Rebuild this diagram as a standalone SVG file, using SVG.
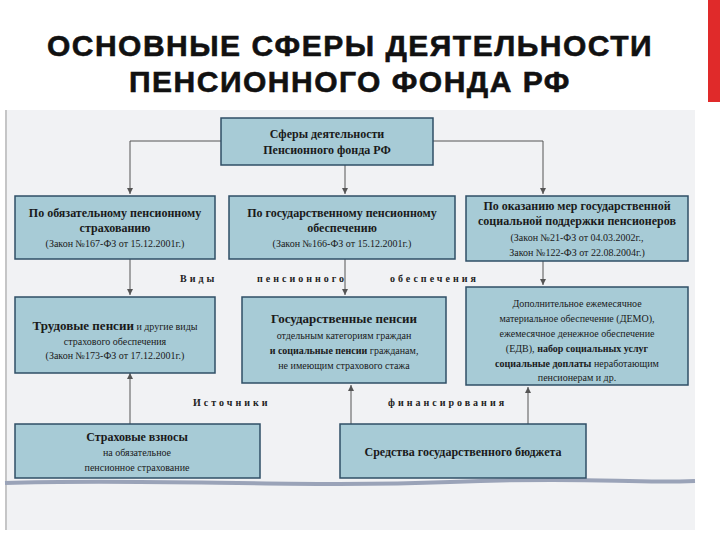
<svg xmlns="http://www.w3.org/2000/svg" width="720" height="540" viewBox="0 0 720 540">
<defs>
<style>
.b{fill:#a7cbd6;stroke:#2f4f66;stroke-width:1.5}
.t{font-family:'Liberation Serif','Times New Roman',serif;fill:#1a1a1a;text-anchor:middle}
.h{font-weight:bold;font-size:12px}
.s{font-size:10px}
.l{font-family:'Liberation Serif',serif;font-size:10px;font-weight:bold;letter-spacing:3px;fill:#222}
.c{fill:none;stroke:#555;stroke-width:1}
</style>
<marker id="a" markerWidth="8" markerHeight="8" refX="6" refY="4" orient="auto"><path d="M0,1 L6,4 L0,7 z" fill="#555"/></marker>
</defs>
<rect width="720" height="540" fill="#fff"/>
<rect x="5" y="110" width="690" height="420" fill="#f1f2f4"/>
<line x1="6" y1="110" x2="6" y2="530" stroke="#999"/>
<rect x="708" y="0" width="12" height="102" fill="#e02a2a"/>
<path d="M5,483 C150,478 300,488 450,482 S620,484 695,481" stroke="#9aa3b8" stroke-width="4" fill="none"/>
<text x="350" y="56" font-family="Liberation Sans,sans-serif" font-weight="bold" font-size="30" letter-spacing="1.5" text-anchor="middle" fill="#111" stroke="#111" stroke-width="0.6">ОСНОВНЫЕ СФЕРЫ ДЕЯТЕЛЬНОСТИ</text>
<text x="350" y="92" font-family="Liberation Sans,sans-serif" font-weight="bold" font-size="30" letter-spacing="1.5" text-anchor="middle" fill="#111" stroke="#111" stroke-width="0.6">ПЕНСИОННОГО ФОНДА РФ</text>
<g id="connectors">
<path class="c" d="M221,141 H130 V194" marker-end="url(#a)"/>
<path class="c" d="M433,141 H543 V194" marker-end="url(#a)"/>
<path class="c" d="M345,165 V194" marker-end="url(#a)"/>
<path class="c" d="M130,259 V295" marker-end="url(#a)"/>
<path class="c" d="M345,259 V295" marker-end="url(#a)"/>
<path class="c" d="M543,261 V285" marker-end="url(#a)"/>
<path class="c" d="M130,424 V373" marker-end="url(#a)"/>
<path class="c" d="M351,424 V385" marker-end="url(#a)"/>
<path class="c" d="M528,424 V387" marker-end="url(#a)"/>
</g>
<text class="l" x="180" y="282">Виды</text>
<text class="l" x="257" y="282">пенсионного</text>
<text class="l" x="390" y="282">обеспечения</text>
<text class="l" x="193" y="406">Источники</text>
<text class="l" x="388" y="406">финансирования</text>
<g id="top"><rect class="b" x="221" y="118" width="212" height="47"/>
<text class="t h" x="327" y="138">Сферы деятельности</text><text class="t h" x="327" y="154">Пенсионного фонда РФ</text></g>
<g id="n1"><rect class="b" x="15" y="196" width="200" height="63"/>
<text class="t h" x="115" y="217">По обязательному пенсионному</text><text class="t h" x="115" y="232">страхованию</text><text class="t s" x="115" y="247">(Закон №167-ФЗ от 15.12.2001г.)</text></g>
<g id="n2"><rect class="b" x="229" y="196" width="226" height="63"/>
<text class="t h" x="342" y="217">По государственному пенсионному</text><text class="t h" x="342" y="232">обеспечению</text><text class="t s" x="342" y="247">(Закон №166-ФЗ от 15.12.2001г.)</text></g>
<g id="n3"><rect class="b" x="466" y="196" width="222" height="65"/>
<text class="t h" x="577" y="210">По оказанию мер государственной</text><text class="t h" x="577" y="225">социальной поддержки пенсионеров</text><text class="t s" x="577" y="241">(Закон №21-ФЗ от 04.03.2002г.,</text><text class="t s" x="577" y="256">Закон №122-ФЗ от 22.08.2004г.)</text></g>
<g id="n4"><rect class="b" x="15" y="297" width="200" height="76"/>
<text class="t" x="115" y="330"><tspan font-weight="bold" font-size="13">Трудовые пенсии</tspan><tspan font-size="10"> и другие виды</tspan></text><text class="t s" x="115" y="345">страхового обеспечения</text><text class="t s" x="115" y="359">(Закон №173-ФЗ от 17.12.2001г.)</text></g>
<g id="n5"><rect class="b" x="242" y="297" width="204" height="86"/>
<text class="t h" x="344" y="323" style="font-size:13px">Государственные пенсии</text><text class="t s" x="344" y="339">отдельным категориям граждан</text><text class="t s" x="344" y="354"><tspan font-weight="bold">и социальные пенсии</tspan> гражданам,</text><text class="t s" x="344" y="369">не имеющим страхового стажа</text></g>
<g id="n6"><rect class="b" x="466" y="287" width="222" height="98"/>
<text class="t s" x="577" y="307">Дополнительное ежемесячное</text><text class="t s" x="577" y="322">материальное обеспечение (ДЕМО),</text><text class="t s" x="577" y="337">ежемесячное денежное обеспечение</text><text class="t s" x="577" y="352">(ЕДВ), <tspan font-weight="bold">набор социальных услуг</tspan></text><text class="t s" x="577" y="367"><tspan font-weight="bold">социальные доплаты</tspan> неработающим</text><text class="t s" x="577" y="381">пенсионерам и др.</text></g>
<g id="n7"><rect class="b" x="15" y="424" width="245" height="54"/>
<text class="t h" x="137" y="441">Страховые взносы</text><text class="t s" x="137" y="456">на обязательное</text><text class="t s" x="137" y="471">пенсионное страхование</text></g>
<g id="n8"><rect class="b" x="340" y="424" width="246" height="54"/>
<text class="t h" x="463" y="456">Средства государственного бюджета</text></g>
</svg>
